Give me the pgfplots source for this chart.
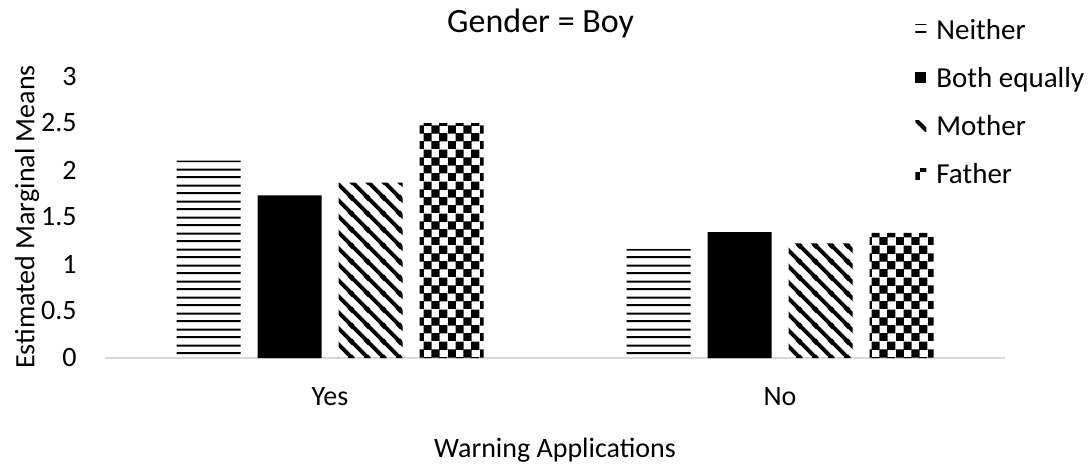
\documentclass[border=0pt]{standalone}
\usepackage{pgfplots}
\pgfplotsset{compat=1.18}
\usepackage{fontspec}
\setmainfont{Carlito}
\usetikzlibrary{patterns.meta}
\tikzdeclarepattern{
  name=checker,
  type=uncolored,
  bounding box={(0,0) and (16pt,16pt)},
  tile size={(16pt,16pt)},
  code={
    \foreach \i in {0,1,2,3}{\foreach \j in {0,1,2,3}{
      \pgfmathparse{int(mod(\i+\j,2))}
      \ifnum\pgfmathresult=0 \fill (\i*4pt-0.1pt,\j*4pt-0.1pt) rectangle (\i*4pt+4.1pt,\j*4pt+4.1pt);\fi
    }}
  }
}
\tikzdeclarepattern{
  name=hstripes,
  type=uncolored,
  bounding box={(0,0) and (40pt,8pt)},
  tile size={(40pt,8pt)},
  code={\fill (-0.5pt,1.5pt) rectangle (40.5pt,2.6pt); \fill (-0.5pt,5.5pt) rectangle (40.5pt,6.6pt);}
}
\tikzdeclarepattern{
  name=dstripes,
  type=uncolored,
  bounding box={(0,0) and (8pt,8pt)},
  tile size={(8pt,8pt)},
  code={
    \draw[line width=2pt] (-1pt,9pt) -- (9pt,-1pt);
    \draw[line width=2pt] (-1pt,1pt) -- (1pt,-1pt);
    \draw[line width=2pt] (7pt,9pt) -- (9pt,7pt);
  }
}
\begin{document}
\begin{tikzpicture}
\useasboundingbox (0,0) rectangle (545.5pt,234pt);
\begin{axis}[
  at={(52.5pt,55pt)}, anchor=south west,
  scale only axis, width=450pt, height=141pt,
  xmin=-0.5, xmax=1.5, ymin=0, ymax=3,
  ybar=8.5pt, bar width=32pt,
  xtick={0,1}, xticklabels={Yes,No},
  ytick={0,0.5,1,1.5,2,2.5,3},
  axis x line*=bottom, axis y line*=left,
  y axis line style={draw=none},
  x axis line style={draw=black!15, line width=0.8pt},
  major tick length=0pt,
  /pgf/number format/assume math mode=true,
  tick label style={font=\fontsize{14}{16}\selectfont},
  yticklabel style={anchor=east, inner sep=0pt, xshift=-14pt},
  xticklabel style={anchor=base, inner sep=0pt, yshift=-23.5pt},
  xlabel={Warning Applications},
  xlabel style={at={(axis description cs:0.5,-0.353)}, anchor=base, font=\fontsize{14}{16}\selectfont},
  ylabel={Estimated Marginal Means},
  ylabel style={at={(axis description cs:-0.0867,0.5)}, anchor=center, font=\fontsize{14}{16}\selectfont},
  every axis title shift=0pt,
  title={Gender = Boy},
  title style={at={(axis description cs:0.484,1.154)}, anchor=base, inner sep=0pt, font=\fontsize{17}{20}\selectfont},
  legend style={at={(axis description cs:0.9,1.202)}, anchor=north west, draw=none, fill=none,
    inner sep=0pt, font=\fontsize{14.5}{17}\selectfont, row sep=11pt,
    nodes={inner sep=0pt, text height=10pt, text depth=3pt},
    /tikz/every odd column/.append style={column sep=5pt}},
  legend cell align=left,
  legend image code/.code={\path[#1, draw=none] (0pt,-1.5pt) rectangle (5.5pt,4pt);},
]
\addplot[draw=none, pattern=hstripes, pattern color=black]
  coordinates {(0,2.10) (1,1.16)};
\addlegendentry{Neither}
\addplot[draw=none, fill=black]
  coordinates {(0,1.73) (1,1.34)};
\addlegendentry{Both equally}
\addplot[draw=none, pattern=dstripes, pattern color=black]
  coordinates {(0,1.865) (1,1.22)};
\addlegendentry{Mother}
\addplot[draw=none, pattern=checker, pattern color=black]
  coordinates {(0,2.50) (1,1.33)};
\addlegendentry{Father}
\end{axis}
\end{tikzpicture}
\end{document}
